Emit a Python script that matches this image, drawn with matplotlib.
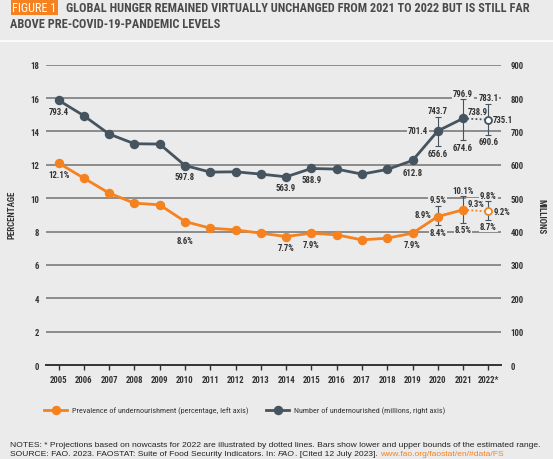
import matplotlib
matplotlib.use("Agg")
import matplotlib.pyplot as plt
from matplotlib import font_manager as fm

# pick a narrow font if one is there
NARROW = "DejaVu Sans"
for cand in ["Liberation Sans Narrow", "Roboto Condensed", "DejaVu Sans Condensed"]:
    try:
        fm.findfont(cand, fallback_to_default=False)
        NARROW = cand
        break
    except Exception:
        pass

years = list(range(2005, 2023))
year_labels = [str(y) for y in years[:-1]] + ["2022*"]
prevalence = [12.1, 11.2, 10.3, 9.7, 9.6, 8.6, 8.2, 8.1, 7.9, 7.7, 7.9, 7.8, 7.5, 7.6, 7.9, 8.9, 9.3, 9.2]
undernourished = [793.4, 747, 692, 663, 662, 597.8, 578, 579, 572, 563.9, 588.9, 587, 572, 586, 612.8, 701.4, 738.9, 735.1]

range_years = [2020, 2021, 2022]
prev_low = [8.4, 8.5, 8.7]
prev_high = [9.5, 10.1, 9.8]
num_low = [656.6, 674.6, 690.6]
num_high = [743.7, 796.9, 783.1]

BG = "#ebebeb"
ORANGE = "#f5821f"
SLATE = "#45545f"
TXT = "#333333"
GRID = "#8c8c8c"
FS = 6.3

fig = plt.figure(figsize=(5.53, 4.60), dpi=100, facecolor=BG)
ax = fig.add_axes([0.083, 0.2043, 0.823, 0.653])
ax.set_facecolor(BG)
ax2 = ax.twinx()

ax.set_xlim(2004.5, 2022.5)
ax.set_ylim(0, 18)
ax2.set_ylim(0, 900)
ax.set_yticks(range(0, 19, 2))
ax2.set_yticks(range(0, 901, 100))
ax.set_xticks(years)
ax.set_xticklabels(year_labels)
for a in (ax, ax2):
    for s in a.spines.values():
        s.set_visible(False)
ax.spines["bottom"].set_visible(True)
ax.spines["bottom"].set_color("#333333")
ax.spines["bottom"].set_linewidth(1.4)
ax.tick_params(axis="x", direction="out", length=3.5, width=1, color="#333333",
               labelsize=FS, labelcolor=TXT, pad=4)
ax.tick_params(axis="y", length=0, labelsize=FS, labelcolor=TXT, pad=5)
ax2.tick_params(axis="y", length=0, labelsize=FS, labelcolor=TXT, pad=7)
for lab in ax.get_xticklabels() + ax.get_yticklabels() + ax2.get_yticklabels():
    lab.set_family(NARROW)
    lab.set_fontweight("bold")

for v in range(2, 19, 2):
    ax.axhline(v, color=GRID, lw=1.4, zorder=0)

DOT = (0, (1, 1.3))
MS = 5.8
# solid part (up to 2021), dotted projection to 2022
tp = ax.transData
ax2.plot(years[:-1], prevalence[:-1], color=ORANGE, lw=2, marker="o", ms=MS, zorder=5, transform=tp)
ax2.plot(years[-2:], prevalence[-2:], color=ORANGE, lw=1.3, ls=DOT, zorder=4, transform=tp)
ax2.plot(years[-1], prevalence[-1], marker="o", ms=5, mfc="white", mec=ORANGE, mew=1.3, zorder=6, transform=tp)

ax2.plot(years[:-1], undernourished[:-1], color=SLATE, lw=2, marker="o", ms=MS, zorder=5)
ax2.plot(years[-2:], undernourished[-2:], color=SLATE, lw=1.3, ls=DOT, zorder=4)
ax2.plot(years[-1], undernourished[-1], marker="o", ms=5, mfc="white", mec=SLATE, mew=1.3, zorder=6)

# ranges
ax2.vlines(range_years, prev_low, prev_high, color=SLATE, lw=0.8, zorder=3, transform=tp)
ax2.vlines(range_years, num_low, num_high, color=SLATE, lw=0.8, zorder=3)
for yy, lo, hi in zip(range_years, prev_low, prev_high):
    ax2.plot([yy, yy], [lo, hi], ls="none", marker="_", ms=4, mew=0.8, color=SLATE, zorder=3, transform=tp)
for yy, lo, hi in zip(range_years, num_low, num_high):
    ax2.plot([yy, yy], [lo, hi], ls="none", marker="_", ms=4, mew=0.8, color=SLATE, zorder=3)

box = dict(facecolor=BG, edgecolor="none", pad=0.6)


def lbl(x, y, s, dx, dy, ha="center", va="center", trans=None):
    ax2.annotate(s, (x, y), xycoords=trans or ax2.transData, xytext=(dx, dy),
                 textcoords="offset points", ha=ha, va=va, fontsize=FS,
                 family=NARROW, fontweight="bold", color=TXT, bbox=box, zorder=2)


# millions labels
lbl(2005, 793.4, "793.4", 0, -8)
lbl(2010, 597.8, "597.8", 0, -8)
lbl(2014, 563.9, "563.9", 0, -8)
lbl(2015, 588.9, "588.9", 0, -8)
lbl(2019, 612.8, "612.8", 0, -9)
lbl(2020, 701.4, "701.4", -7, 0, ha="right")
lbl(2020, 743.7, "743.7", 0, 1.5, va="bottom")
lbl(2020, 656.6, "656.6", 0, -2, va="top")
lbl(2021, 796.9, "796.9", 0, 1, va="bottom")
lbl(2021, 738.9, "738.9", 3, 5, ha="left")
lbl(2021, 674.6, "674.6", 0, -2, va="top")
lbl(2022, 783.1, "783.1", 0, 1, va="bottom")
lbl(2022, 735.1, "735.1", 3.5, 0, ha="left")
lbl(2022, 690.6, "690.6", 0, -2, va="top")

# percentage labels
lbl(2005, 12.1, "12.1%", 0, -8, trans=tp)
lbl(2010, 8.6, "8.6%", 0, -14, trans=tp)
lbl(2014, 7.7, "7.7%", 0, -8, trans=tp)
lbl(2015, 7.9, "7.9%", 0, -8, trans=tp)
lbl(2019, 7.9, "7.9%", 0, -8, trans=tp)
lbl(2020, 8.9, "8.9%", -4.5, 1.5, ha="right", trans=tp)
lbl(2020, 9.5, "9.5%", 0, 1.5, va="bottom", trans=tp)
lbl(2020, 8.4, "8.4%", 0, -2, va="top", trans=tp)
lbl(2021, 10.1, "10.1%", 0, 1, va="bottom", trans=tp)
lbl(2021, 9.3, "9.3%", 3, 4.5, ha="left", trans=tp)
lbl(2021, 8.5, "8.5%", 0, -1.5, va="top", trans=tp)
lbl(2022, 9.8, "9.8%", 0, 1, va="bottom", trans=tp)
lbl(2022, 9.2, "9.2%", 3.5, 0, ha="left", trans=tp)
lbl(2022, 8.7, "8.7%", 0, -1.5, va="top", trans=tp)

fig.text(12 / 553, 1 - 215 / 460, "PERCENTAGE", rotation=90, ha="center", va="center",
         fontsize=6.4, family=NARROW, fontweight="bold", color=TXT)
fig.text(541 / 553, 1 - 217 / 460, "MILLIONS", rotation=270, ha="center", va="center",
         fontsize=6.4, family=NARROW, fontweight="bold", color=TXT)

# legend
fig.lines.append(plt.Line2D([44 / 553, 55.5 / 553, 67 / 553], [1 - 411 / 460] * 3, transform=fig.transFigure,
                            color=ORANGE, lw=2, marker="o", markevery=[1], ms=MS))
fig.lines.append(plt.Line2D([266 / 553, 277.5 / 553, 289 / 553], [1 - 411 / 460] * 3, transform=fig.transFigure,
                            color=SLATE, lw=2, marker="o", markevery=[1], ms=MS))
fig.text(72 / 553, 1 - 411 / 460, "Prevalence of undernourishment (percentage, left axis)",
         ha="left", va="center", fontsize=5.9, family=NARROW, color=TXT)
fig.text(294 / 553, 1 - 411 / 460, "Number of undernourished (millions, right axis)",
         ha="left", va="center", fontsize=5.9, family=NARROW, color=TXT)

# notes
NFS = 6.1
fig.text(10 / 553, 1 - 445.5 / 460,
         "NOTES: * Projections based on nowcasts for 2022 are illustrated by dotted lines. "
         "Bars show lower and upper bounds of the estimated range.",
         ha="left", va="center", fontsize=NFS, family="Liberation Sans", color="#222222")
t = fig.text(10 / 553, 1 - 454.5 / 460,
             "SOURCE: FAO. 2023. FAOSTAT: Suite of Food Security Indicators. In: ",
             ha="left", va="center", fontsize=NFS, family="Liberation Sans", color="#222222")
fig.canvas.draw()
r = fig.canvas.get_renderer()
bb = t.get_window_extent(r)
t2 = fig.text(bb.x1 / fig.bbox.width, 1 - 454.5 / 460, "FAO", ha="left", va="center",
              fontsize=NFS, family="Liberation Sans", style="italic", color="#222222")
bb2 = t2.get_window_extent(r)
t3 = fig.text(bb2.x1 / fig.bbox.width, 1 - 454.5 / 460, ". [Cited 12 July 2023]. ", ha="left", va="center",
              fontsize=NFS, family="Liberation Sans", color="#222222")
bb3 = t3.get_window_extent(r)
fig.text(bb3.x1 / fig.bbox.width, 1 - 454.5 / 460, "www.fao.org/faostat/en/#data/FS", ha="left",
         va="center", fontsize=NFS, family="Liberation Sans", color=ORANGE)

# title
TFS = 8.8
fig.text(12 / 553, 1 - 8 / 460, "FIGURE 1", ha="left", va="center", fontsize=TFS, family=NARROW,
         color="white", bbox=dict(facecolor=ORANGE, edgecolor="none", pad=1.0))
fig.text(66 / 553, 1 - 8 / 460, "GLOBAL HUNGER REMAINED VIRTUALLY UNCHANGED FROM 2021 TO 2022 BUT IS STILL FAR",
         ha="left", va="center", fontsize=TFS, family=NARROW, fontweight="bold", color="#4a4a4a")
fig.text(10 / 553, 1 - 24 / 460, "ABOVE PRE-COVID-19-PANDEMIC LEVELS",
         ha="left", va="center", fontsize=TFS, family=NARROW, fontweight="bold", color="#4a4a4a")
fig.lines.append(plt.Line2D([0, 1], [1 - 41.5 / 460] * 2, transform=fig.transFigure, color="white", lw=1.2))

fig.savefig("out.png", dpi=100, facecolor=BG)
